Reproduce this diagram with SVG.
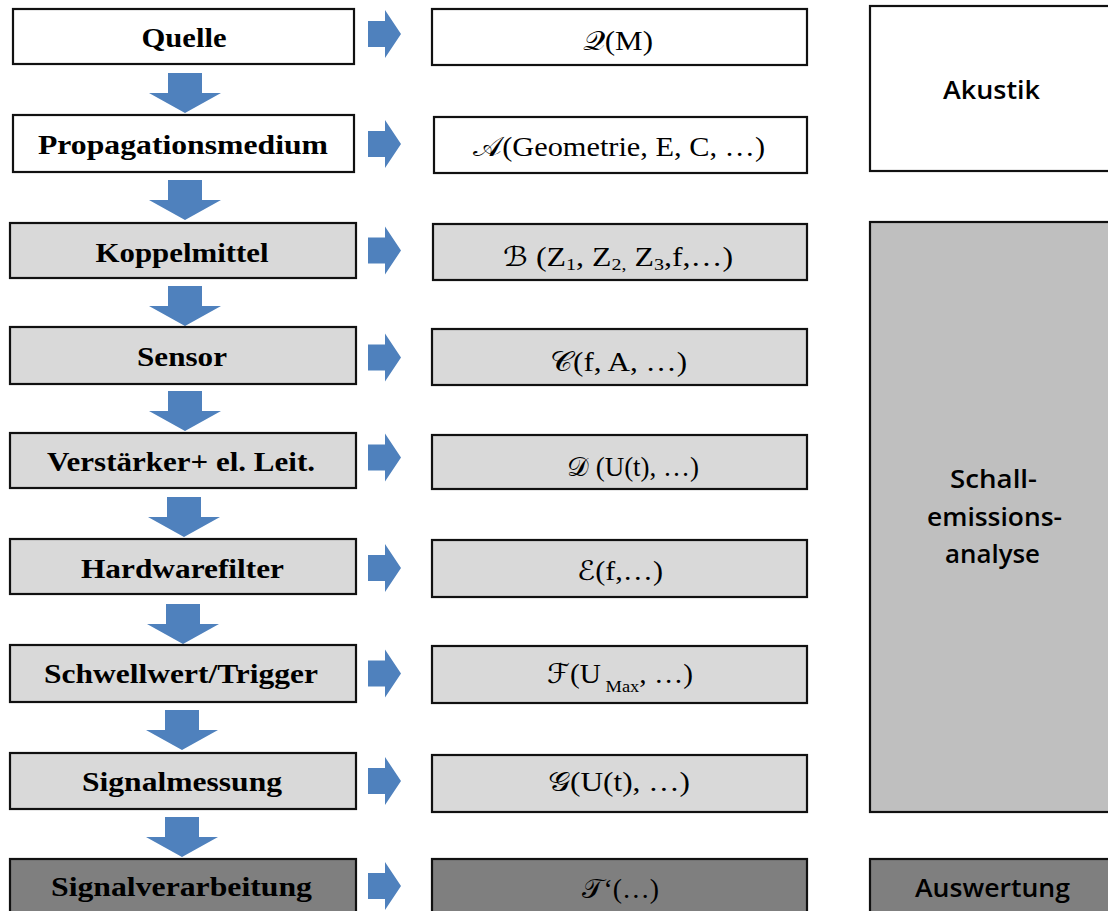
<svg xmlns="http://www.w3.org/2000/svg" width="1108" height="911" viewBox="0 0 1108 911">
<style>
.box{stroke:#111;stroke-width:2.2}
.w{fill:#fff}.l{fill:#d9d9d9}.m{fill:#bfbfbf}.d{fill:#7f7f7f}
.lt{font-family:"Liberation Serif","Times New Roman",serif;font-weight:bold;font-size:27px;fill:#000;text-anchor:middle}
.mt{font-family:"Liberation Serif","DejaVu Serif","DejaVu Sans",serif;font-size:27px;fill:#000;text-anchor:middle}
.sub{font-size:17px}
.rt{font-family:"Open Sans","Liberation Sans",sans-serif;font-weight:600;font-size:25px;fill:#000;text-anchor:middle}
.arr{fill:#4f81bd}
</style>
<defs>
<path id="ra" d="M0,-13 H17 V-24 L33,0 L17,24 V13 H0 Z"/>
<path id="da" d="M-17,0 H17 V20 H36 L0,40 L-36,20 H-17 Z"/>
</defs>

<g id="connectors" class="arr">
<use href="#da" x="185" y="73"/>
<use href="#da" x="185" y="180"/>
<use href="#da" x="185" y="286"/>
<use href="#da" x="185" y="391"/>
<use href="#da" x="184" y="497"/>
<use href="#da" x="183" y="604"/>
<use href="#da" x="182" y="710"/>
<use href="#da" x="182" y="817"/>
<use href="#ra" x="368" y="34"/>
<use href="#ra" x="368" y="144"/>
<use href="#ra" x="368" y="250.5"/>
<use href="#ra" x="368" y="357.5"/>
<use href="#ra" x="368" y="457.5"/>
<use href="#ra" x="368" y="568"/>
<use href="#ra" x="368" y="673.5"/>
<use href="#ra" x="368" y="781"/>
<use href="#ra" x="368" y="886"/>
</g>

<g id="n-quelle"><rect class="box w" x="13" y="9" width="341" height="55"/><text class="lt" x="184" y="47" textLength="85" lengthAdjust="spacingAndGlyphs">Quelle</text></g>
<g id="n-propagation"><rect class="box w" x="13" y="115" width="341" height="57"/><text class="lt" x="183" y="154" textLength="290" lengthAdjust="spacingAndGlyphs">Propagationsmedium</text></g>
<g id="n-koppel"><rect class="box l" x="10" y="223" width="346" height="55"/><text class="lt" x="182" y="262" textLength="173" lengthAdjust="spacingAndGlyphs">Koppelmittel</text></g>
<g id="n-sensor"><rect class="box l" x="10" y="327" width="346" height="57"/><text class="lt" x="182" y="366" textLength="90" lengthAdjust="spacingAndGlyphs">Sensor</text></g>
<g id="n-verst"><rect class="box l" x="10" y="433" width="346" height="55"/><text class="lt" x="181" y="471" textLength="268" lengthAdjust="spacingAndGlyphs">Verstärker+ el. Leit.</text></g>
<g id="n-hardware"><rect class="box l" x="10" y="539" width="346" height="55"/><text class="lt" x="182.5" y="578" textLength="203" lengthAdjust="spacingAndGlyphs">Hardwarefilter</text></g>
<g id="n-schwell"><rect class="box l" x="10" y="645" width="346" height="57"/><text class="lt" x="181" y="683" textLength="274" lengthAdjust="spacingAndGlyphs">Schwellwert/Trigger</text></g>
<g id="n-messung"><rect class="box l" x="10" y="753" width="346" height="56"/><text class="lt" x="182" y="791" textLength="200" lengthAdjust="spacingAndGlyphs">Signalmessung</text></g>
<g id="n-verarb"><rect class="box d" x="10" y="859" width="346" height="60"/><text class="lt" x="181.5" y="896" textLength="261" lengthAdjust="spacingAndGlyphs">Signalverarbeitung</text></g>

<g id="f-q"><rect class="box w" x="432" y="9" width="375" height="56"/><text class="mt" x="618" y="50" textLength="70" lengthAdjust="spacingAndGlyphs">𝒬(M)</text></g>
<g id="f-a"><rect class="box w" x="434" y="117" width="373" height="56"/><text class="mt" x="619" y="156" textLength="292" lengthAdjust="spacingAndGlyphs">𝒜(Geometrie, E, C, …)</text></g>
<g id="f-b"><rect class="box l" x="433" y="224" width="374" height="56"/><text class="mt" x="618" y="266" textLength="230" lengthAdjust="spacingAndGlyphs">ℬ (Z<tspan class="sub" dy="4">1</tspan><tspan dy="-4">, Z</tspan><tspan class="sub" dy="4">2,</tspan><tspan dy="-4"> Z</tspan><tspan class="sub" dy="4">3</tspan><tspan dy="-4">,f,…)</tspan></text></g>
<g id="f-c"><rect class="box l" x="432" y="329" width="375" height="56"/><text class="mt" x="618.5" y="371" textLength="137" lengthAdjust="spacingAndGlyphs">𝒞(f, A, …)</text></g>
<g id="f-d"><rect class="box l" x="432" y="435" width="375" height="54"/><text class="mt" x="633" y="476">𝒟 (U(t), …)</text></g>
<g id="f-e"><rect class="box l" x="432" y="540" width="375" height="57"/><text class="mt" x="620" y="580" textLength="86" lengthAdjust="spacingAndGlyphs">ℰ(f,…)</text></g>
<g id="f-f"><rect class="box l" x="432" y="646" width="375" height="57"/><text class="mt" x="620" y="683" textLength="146" lengthAdjust="spacingAndGlyphs">ℱ(U<tspan class="sub" dy="9"> Max</tspan><tspan dy="-9">, …)</tspan></text></g>
<g id="f-g"><rect class="box l" x="432" y="755" width="375" height="57"/><text class="mt" x="619" y="791" textLength="142" lengthAdjust="spacingAndGlyphs">𝒢(U(t), …)</text></g>
<g id="f-i"><rect class="box d" x="432" y="859" width="375" height="60"/><text class="mt" x="620.5" y="898" textLength="77" lengthAdjust="spacingAndGlyphs">𝒯‘(…)</text></g>

<g id="akustik"><rect class="box w" x="870" y="6" width="260" height="165"/><text class="rt" x="991.5" y="99" textLength="97" lengthAdjust="spacingAndGlyphs">Akustik</text></g>
<g id="schall"><rect class="box m" x="870" y="222" width="260" height="590"/>
<text class="rt" x="993.5" y="488" textLength="87" lengthAdjust="spacingAndGlyphs">Schall-</text>
<text class="rt" x="994.5" y="526" textLength="135" lengthAdjust="spacingAndGlyphs">emissions-</text>
<text class="rt" x="992.5" y="563" textLength="95" lengthAdjust="spacingAndGlyphs">analyse</text></g>
<g id="auswertung"><rect class="box d" x="870" y="859" width="260" height="60"/><text class="rt" x="992.5" y="897" textLength="155" lengthAdjust="spacingAndGlyphs">Auswertung</text></g>
</svg>
